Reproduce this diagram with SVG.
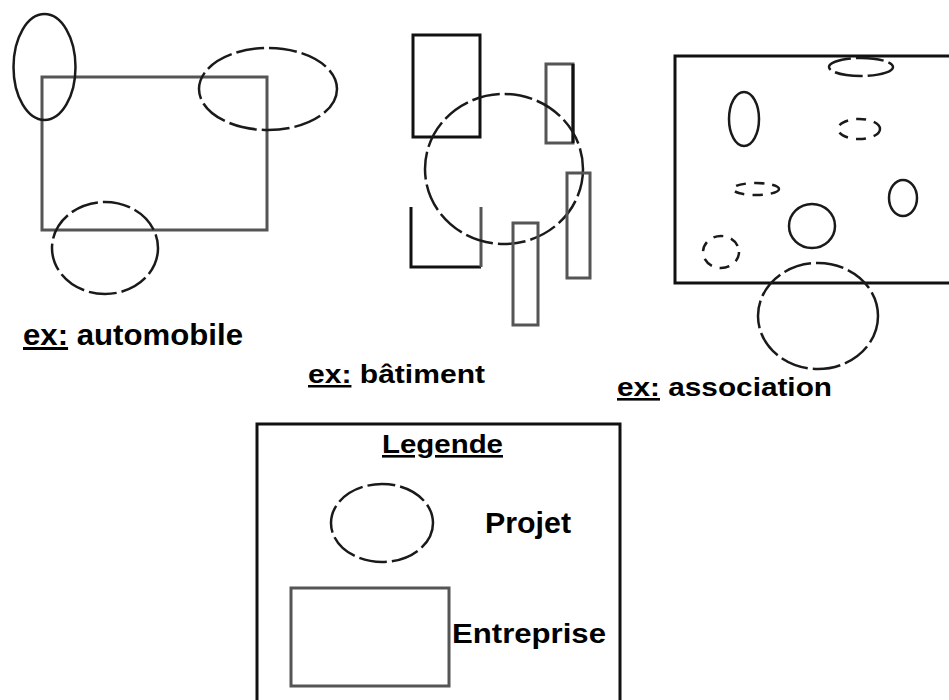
<svg xmlns="http://www.w3.org/2000/svg" width="949" height="700" viewBox="0 0 949 700">
<style>
.t{font-family:"Liberation Sans",Arial,sans-serif;font-weight:bold;fill:#000}
.u{text-decoration:underline}
.proj{fill:none;stroke:#1a1a1a;stroke-width:2.5}
.projd{fill:none;stroke:#1a1a1a;stroke-width:2.5;stroke-dasharray:28 5}
.projs{fill:none;stroke:#1a1a1a;stroke-width:2.5;stroke-dasharray:10 8}
.ent{fill:none;stroke:#555;stroke-width:3}
.entb{fill:none;stroke:#111;stroke-width:3}
</style>
<rect width="949" height="700" fill="#fff"/>
<g id="ex-automobile">
  <rect id="auto-entreprise" class="ent" x="42" y="77" width="225" height="153"/>
  <ellipse id="auto-projet-1" class="proj" cx="44.5" cy="67" rx="31" ry="53"/>
  <ellipse id="auto-projet-2" class="projd" cx="268" cy="89" rx="69" ry="41"/>
  <ellipse id="auto-projet-3" class="projd" cx="105" cy="248" rx="53" ry="46"/>
  <text class="t" x="23" y="345" font-size="30" textLength="220" lengthAdjust="spacingAndGlyphs"><tspan class="u">ex:</tspan> automobile</text>
</g>
<g id="ex-batiment">
  <rect id="bat-ent-1" class="entb" x="413" y="35" width="67" height="102"/>
  <rect id="bat-ent-2" class="ent" x="546" y="64" width="27" height="79"/>
  <line class="entb" x1="573" y1="64" x2="573" y2="143"/>
  <path id="bat-ent-3" class="entb" d="M411,207 V267 H481"/>
  <line class="ent" x1="481" y1="207" x2="481" y2="267"/>
  <ellipse id="bat-projet" class="projd" cx="504" cy="169" rx="79" ry="75"/>
  <rect id="bat-ent-4" class="ent" x="513" y="223" width="25" height="102"/>
  <rect id="bat-ent-5" class="ent" x="567" y="173" width="23" height="105"/>
  <text class="t" x="308" y="383" font-size="25" textLength="177" lengthAdjust="spacingAndGlyphs"><tspan class="u">ex:</tspan> bâtiment</text>
</g>
<g id="ex-association">
  <path id="asso-entreprise" class="entb" d="M949,56 H675 V283 H949"/>
  <ellipse class="projd" cx="861" cy="67" rx="32" ry="9"/>
  <ellipse class="proj" cx="744" cy="119" rx="15" ry="27"/>
  <ellipse class="projs" cx="859" cy="129" rx="21" ry="10"/>
  <ellipse class="projs" cx="756" cy="189" rx="23" ry="6"/>
  <ellipse class="proj" cx="903" cy="198" rx="14" ry="18"/>
  <ellipse class="proj" cx="812" cy="226" rx="23" ry="22"/>
  <ellipse class="projs" cx="721" cy="252" rx="18" ry="16"/>
  <ellipse class="projd" cx="818" cy="316" rx="60" ry="53"/>
  <text class="t" x="617" y="396" font-size="26" textLength="215" lengthAdjust="spacingAndGlyphs"><tspan class="u">ex:</tspan> association</text>
</g>
<g id="legende">
  <path class="entb" d="M257,702 V424 H620 V702"/>
  <text class="t u" x="382" y="453" font-size="26" textLength="121" lengthAdjust="spacingAndGlyphs">Legende</text>
  <ellipse id="leg-projet" class="projd" cx="382" cy="523" rx="51" ry="39"/>
  <text class="t" x="485" y="533" font-size="29" textLength="86" lengthAdjust="spacingAndGlyphs">Projet</text>
  <rect id="leg-entreprise" class="ent" x="291" y="588" width="158" height="98"/>
  <text class="t" x="452" y="643" font-size="28" textLength="154" lengthAdjust="spacingAndGlyphs">Entreprise</text>
</g>
<g id="connectors"/>
</svg>
